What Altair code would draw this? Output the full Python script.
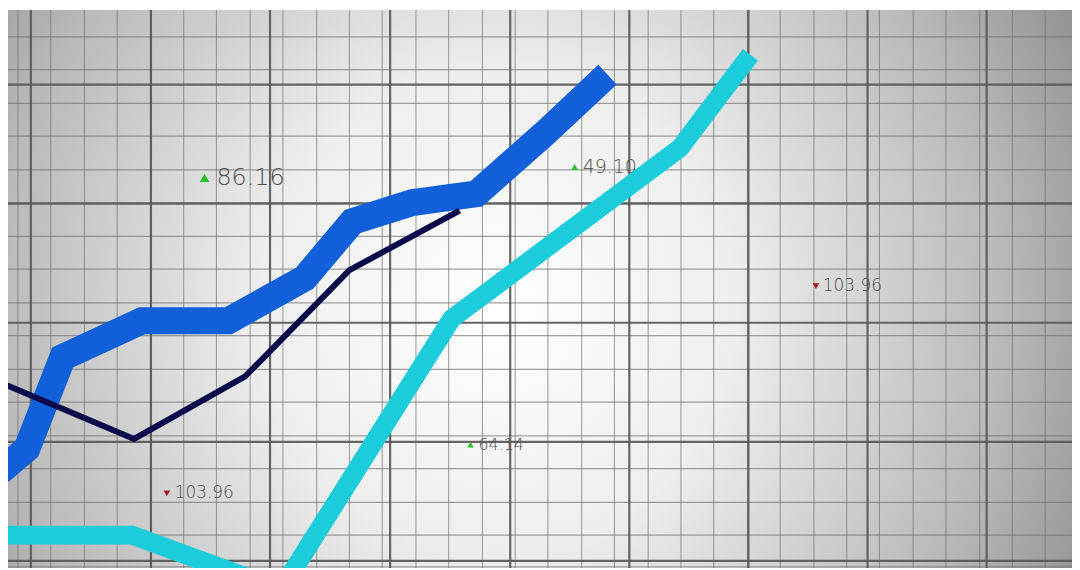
import altair as alt
import pandas as pd

W, H = 1072, 562
X_DOMAIN = [8, 1080]
Y_DOMAIN = [0, 562]

# ---- series (x = time position, v = value) ----
blue_x = [0, 27, 63, 143, 230, 307, 355, 415, 480, 548, 612]
blue_v = [97, 120, 212, 249, 249, 292, 349, 368, 377, 437, 497]

navy_x = [0, 135, 247, 352, 463]
navy_v = [187, 130, 193, 300, 360]

cyan_x = [0, 133, 283, 455, 685, 756]
cyan_v = [33, 33, -22, 251, 423, 517]

# ---- grid positions ----
major_x = [31, 152, 272, 393, 514, 634, 754, 874, 994]
major_v = [7, 127, 247, 367, 487]
minor_x = [18, 51, 85, 118, 152, 185, 218, 252, 285, 319, 352, 385, 419, 452,
           486, 519, 552, 586, 619, 653, 686, 719, 753, 786, 820, 853, 886,
           920, 953, 987, 1020, 1053]
minor_v = [535, 502, 468, 435, 401, 368, 334, 301, 267, 234, 200, 167,
           133, 100, 66, 33, 1]

# ---- labels ----
label_text = ["86.16", "49.10", "103.96", "64.14", "103.96"]
label_x = [218, 587, 829, 482, 176]
label_v = [393, 404, 284, 124, 75]
label_fs = [24, 19, 17, 16, 17]
label_dir = ["up", "up", "down", "up", "down"]
tri_x = [206, 579, 822, 474, 168]
tri_size = [95, 50, 45, 42, 45]

xs = alt.Scale(domain=X_DOMAIN, nice=False, zero=False)
ys = alt.Scale(domain=Y_DOMAIN, nice=False, zero=False)

bg = alt.Chart(pd.DataFrame({"a": [0]})).mark_rect(
    fill=alt.RadialGradient(
        gradient="radial",
        stops=[
            alt.GradientStop(offset=0, color="#ffffff"),
            alt.GradientStop(offset=0.35, color="#eeeeee"),
            alt.GradientStop(offset=0.75, color="#b8b8b8"),
            alt.GradientStop(offset=1, color="#8a8a8a"),
        ],
        x1=0.46, y1=0.52, r1=0, x2=0.46, y2=0.52, r2=0.64,
    )
).encode(
    x=alt.datum(X_DOMAIN[0], scale=xs, axis=None),
    x2=alt.datum(X_DOMAIN[1]),
    y=alt.datum(Y_DOMAIN[0], scale=ys, axis=None),
    y2=alt.datum(Y_DOMAIN[1]),
)

minor_vx = alt.Chart(pd.DataFrame({"x": minor_x})).mark_rule(
    color="#707070", strokeWidth=1.1, opacity=0.65, clip=True
).encode(x=alt.X("x:Q", scale=xs, axis=None))
minor_hy = alt.Chart(pd.DataFrame({"v": minor_v})).mark_rule(
    color="#707070", strokeWidth=1.1, opacity=0.65, clip=True
).encode(y=alt.Y("v:Q", scale=ys, axis=None))
major_vx = alt.Chart(pd.DataFrame({"x": major_x})).mark_rule(
    color="#555555", strokeWidth=2.2, opacity=0.9, clip=True
).encode(x=alt.X("x:Q", scale=xs, axis=None))
major_hy = alt.Chart(pd.DataFrame({"v": major_v})).mark_rule(
    color="#555555", strokeWidth=2.2, opacity=0.9, clip=True
).encode(y=alt.Y("v:Q", scale=ys, axis=None))


def series(xv, vv, color, width):
    df = pd.DataFrame({"x": xv, "v": vv, "o": list(range(len(xv)))})
    return alt.Chart(df).mark_line(
        color=color, strokeWidth=width, strokeCap="butt", strokeJoin="miter",
        clip=True
    ).encode(
        x=alt.X("x:Q", scale=xs, axis=None),
        y=alt.Y("v:Q", scale=ys, axis=None),
        order="o:Q",
    )


cyan = series(cyan_x, cyan_v, "#1bccdb", 19)
blue = series(blue_x, blue_v, "#1160da", 27)
navy = series(navy_x, navy_v, "#0b0b4c", 6)

ldf = pd.DataFrame({
    "t": label_text, "x": label_x, "v": label_v, "fs": label_fs,
    "dir": label_dir, "tx": tri_x, "ts": tri_size,
})
ldf["shape"] = ["triangle-up" if d == "up" else "triangle-down" for d in ldf["dir"]]
ldf["col"] = ["#2cc22c" if d == "up" else "#b01818" for d in ldf["dir"]]

texts = alt.Chart(ldf).mark_text(
    align="left", baseline="middle", font="DejaVu Sans", fontWeight=200,
    color="#4f4f4f"
).encode(
    x=alt.X("x:Q", scale=xs, axis=None),
    y=alt.Y("v:Q", scale=ys, axis=None),
    text="t:N",
    size=alt.Size("fs:Q", scale=None, legend=None),
)
tris = alt.Chart(ldf).mark_point(filled=True, opacity=1, strokeWidth=0).encode(
    x=alt.X("tx:Q", scale=xs, axis=None),
    y=alt.Y("v:Q", scale=ys, axis=None),
    shape=alt.Shape("shape:N", scale=None, legend=None),
    color=alt.Color("col:N", scale=None, legend=None),
    size=alt.Size("ts:Q", scale=None, legend=None),
)

chart = alt.layer(
    bg, minor_vx, minor_hy, major_vx, major_hy, texts, tris, cyan, blue, navy
).properties(width=W, height=H, padding=0).configure_view(stroke=None)

chart.save("out.html", embed_options={"renderer": "svg", "actions": False})
